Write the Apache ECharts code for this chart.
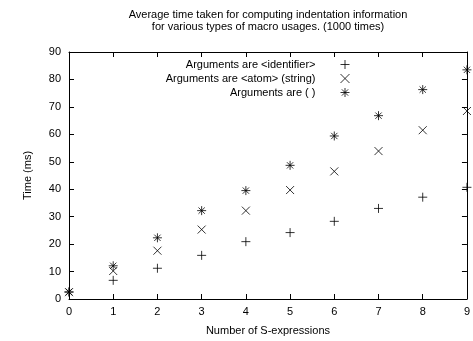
<!DOCTYPE html>
<html>
<head>
<meta charset="utf-8">
<script src="https://cdn.jsdelivr.net/npm/echarts@6/dist/echarts.min.js"></script>
<style>
  html, body { margin: 0; padding: 0; background: #fff; }
  #box { width: 473px; height: 341px; }
</style>
</head>
<body>
<div id="box"></div>
<script>
var sexprs = [0, 1, 2, 3, 4, 5, 6, 7, 8, 9];
var identTimes = [2.5, 6.8, 11.2, 15.9, 20.9, 24.2, 28.3, 33.0, 37.1, 40.7];
var atomTimes = [2.5, 10.2, 17.6, 25.3, 32.2, 39.7, 46.5, 53.9, 61.5, 68.5];
var parenTimes = [2.6, 12.1, 22.3, 32.2, 39.5, 48.7, 59.4, 66.8, 76.3, 83.5];
var names = ['Arguments are <identifier>', 'Arguments are <atom> (string)', 'Arguments are ( )'];

var plusPath = 'path://M0,5L10,5M5,0L5,10';
var crossPath = 'path://M0,0L10,10M0,10L10,0';
var starPath = 'path://M0,5L10,5M5,0L5,10M1.5,1.5L8.5,8.5M1.5,8.5L8.5,1.5';

function pairs(vals) {
  var out = [];
  for (var i = 0; i < sexprs.length; i++) out.push([sexprs[i], vals[i]]);
  return out;
}

var font = 'Liberation Sans';
var chart = echarts.init(document.getElementById('box'));

function mkSeries(name, vals, sym, size) {
  return {
    name: name,
    type: 'scatter',
    data: pairs(vals),
    symbol: sym,
    symbolSize: size,
    itemStyle: { color: 'rgba(0,0,0,0)', borderColor: '#000', borderWidth: 1 },
    emphasis: { disabled: true }
  };
}

var tick = { show: true, inside: true, length: 5, lineStyle: { color: '#000' } };
var line = { show: true, onZero: false, lineStyle: { color: '#000' } };

chart.setOption({
  animation: false,
  title: {
    text: 'Average time taken for computing indentation information\nfor various types of macro usages. (1000 times)',
    left: 263, top: 4, textAlign: 'center',
    textStyle: { fontFamily: font, fontSize: 11, fontWeight: 'normal', color: '#000', lineHeight: 12 }
  },
  legend: {
    orient: 'vertical', right: 118, top: 54, align: 'right',
    itemGap: 3, itemWidth: 9, itemHeight: 9,
    itemStyle: { color: 'rgba(0,0,0,0)', borderColor: '#000', borderWidth: 1 },
    textStyle: { fontFamily: font, fontSize: 11, color: '#000', padding: [0, 20, 0, 0] },
    data: names
  },
  grid: { left: 69, right: 6, top: 52, bottom: 42 },
  xAxis: [{
    type: 'value', min: 0, max: 9, interval: 1,
    name: 'Number of S-expressions', nameLocation: 'middle', nameGap: 26,
    nameTextStyle: { fontFamily: font, fontSize: 11, color: '#000' },
    axisLine: line,
    axisTick: tick,
    axisLabel: { fontFamily: font, fontSize: 11, color: '#000', margin: 7 },
    splitLine: { show: false }
  }, {
    type: 'value', min: 0, max: 9, interval: 1, position: 'top',
    axisLine: line,
    axisTick: tick,
    axisLabel: { show: false }, splitLine: { show: false }
  }],
  yAxis: [{
    type: 'value', min: 0, max: 90, interval: 10,
    name: 'Time (ms)', nameLocation: 'middle', nameGap: 36,
    nameTextStyle: { fontFamily: font, fontSize: 11, color: '#000' },
    axisLine: line,
    axisTick: tick,
    axisLabel: { fontFamily: font, fontSize: 11, color: '#000', margin: 8 },
    splitLine: { show: false }
  }, {
    type: 'value', min: 0, max: 90, interval: 10, position: 'right',
    axisLine: line,
    axisTick: tick,
    axisLabel: { show: false }, splitLine: { show: false }
  }],
  series: [
    mkSeries(names[0], identTimes, plusPath, 9),
    mkSeries(names[1], atomTimes, crossPath, 8),
    mkSeries(names[2], parenTimes, starPath, 9)
  ]
});
</script>
</body>
</html>
